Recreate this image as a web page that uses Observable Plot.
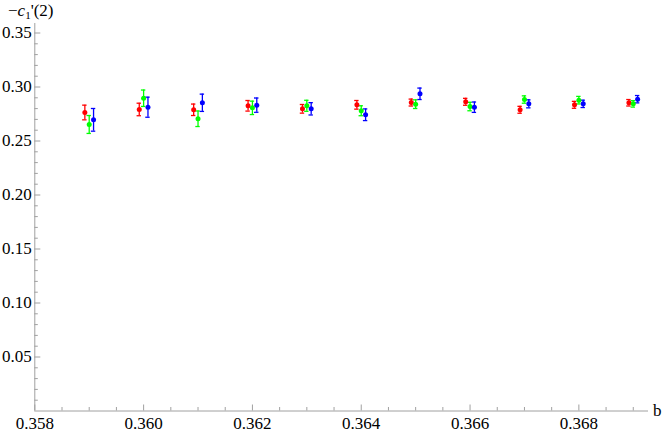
<!DOCTYPE html>
<html>
<head>
<meta charset="utf-8">
<script src="https://cdn.jsdelivr.net/npm/d3@7"></script>
<script src="https://cdn.jsdelivr.net/npm/@observablehq/plot@0.6"></script>
<style>
  body { margin: 0; background: #fff; }
  #wrap { position: relative; width: 664px; height: 433px; font-family: "Liberation Serif", "Times New Roman", Times, "DejaVu Serif", "Noto Serif", serif; }
  .lbl { position: absolute; font-size: 17px; line-height: 17px; color: #000; white-space: nowrap; }
  .lbl sub { font-size: 11px; vertical-align: -3px; line-height: 0; }
</style>
</head>
<body>
<div id="wrap">
  <span class="lbl" style="left:8px; top:2px;">−<i>c</i><sub>1</sub>'(2)</span>
  <span class="lbl" style="left:653px; top:402px;">b</span>
</div>
<script>
// Data
const bValues = [0.359, 0.360, 0.361, 0.362, 0.363, 0.364, 0.365, 0.366, 0.367, 0.368, 0.369];
const redVals   = [0.2764, 0.2792, 0.2789, 0.2826, 0.2798, 0.2835, 0.2856, 0.2863, 0.2789, 0.2835, 0.2854];
const redErr    = [0.0068, 0.0058, 0.0053, 0.0049, 0.0040, 0.0040, 0.0032, 0.0032, 0.0032, 0.0032, 0.0030];
const greenVals = [0.2653, 0.2896, 0.2706, 0.2807, 0.2826, 0.2780, 0.2841, 0.2819, 0.2884, 0.2878, 0.2844];
const greenErr  = [0.0083, 0.0076, 0.0072, 0.0062, 0.0051, 0.0046, 0.0040, 0.0039, 0.0034, 0.0035, 0.0030];
const blueVals  = [0.2696, 0.2813, 0.2854, 0.2832, 0.2798, 0.2743, 0.2937, 0.2813, 0.2844, 0.2844, 0.2887];
const blueErr   = [0.0105, 0.0093, 0.0080, 0.0066, 0.0057, 0.0054, 0.0053, 0.0048, 0.0037, 0.0034, 0.0034];
const seriesNames = ["series 1", "series 2", "series 3"];
const seriesColors = ["#ff0000", "#00ff00", "#0000ff"];
const seriesShift = [-0.00008, 0, 0.00008];

const xTicks = [0.358, 0.360, 0.362, 0.364, 0.366, 0.368];
const yTicks = [0.05, 0.10, 0.15, 0.20, 0.25, 0.30, 0.35];

// Layout
const W = 664, H = 433;
const mL = 34.3, mR = 16, mT = 23, mB = 22.5;
const xDomain = [0.358, 0.36928];
const yDomain = [0, 0.3588];
const pxPerX = (W - mL - mR) / (xDomain[1] - xDomain[0]);
const pxPerY = (H - mT - mB) / (yDomain[1] - yDomain[0]);

const xMinor = d3.range(0, 23).map(i => +(0.358 + i * 0.0005).toFixed(4)).filter(v => v <= xDomain[1] && !xTicks.some(t => Math.abs(t - v) < 1e-9));
const yMinor = d3.range(1, 36).map(i => +(i * 0.01).toFixed(2)).filter(v => !yTicks.some(t => Math.abs(t - v) < 1e-9));

const valsAll = [redVals, greenVals, blueVals];
const errsAll = [redErr, greenErr, blueErr];
const pts = [];
seriesNames.forEach((s, k) => {
  bValues.forEach((b, i) => {
    pts.push({series: s, x: b + seriesShift[k], y: valsAll[k][i], e: errsAll[k][i]});
  });
});
const capW = 2.2 / pxPerX;
const axisColor = "#a0a0a0";
const serif = "'Liberation Serif', 'Times New Roman', Times, 'DejaVu Serif', 'Noto Serif', serif";

const chart = Plot.plot({
  width: W, height: H,
  marginLeft: mL, marginRight: mR, marginTop: mT, marginBottom: mB,
  style: {fontFamily: serif, fontSize: "17px", background: "transparent", color: "#000"},
  x: {domain: xDomain, axis: null},
  y: {domain: yDomain, axis: null},
  color: {type: "ordinal", domain: seriesNames, range: seriesColors},
  marks: [
    // axis lines
    Plot.ruleY([0], {x1: xDomain[0], x2: xDomain[1], stroke: axisColor, strokeWidth: 1}),
    Plot.ruleX([xDomain[0]], {y1: yDomain[0], y2: yDomain[1], stroke: axisColor, strokeWidth: 1}),
    // inward ticks
    Plot.ruleX(xTicks, {y1: 0, y2: 6 / pxPerY, stroke: axisColor}),
    Plot.ruleX(xMinor, {y1: 0, y2: 3.5 / pxPerY, stroke: axisColor}),
    Plot.ruleY(yTicks, {x1: xDomain[0], x2: xDomain[0] + 6 / pxPerX, stroke: axisColor}),
    Plot.ruleY(yMinor, {x1: xDomain[0], x2: xDomain[0] + 3.5 / pxPerX, stroke: axisColor}),
    // tick labels
    Plot.axisX(xTicks, {tickSize: 0, tickPadding: 6, tickFormat: d3.format(".3f"), label: null, fill: "#000", fontSize: 17, fontFamily: serif}),
    Plot.axisY(yTicks, {tickSize: 0, tickPadding: 3, tickFormat: d3.format(".2f"), label: null, fill: "#000", fontSize: 17, fontFamily: serif}),
    // error bars
    Plot.ruleX(pts, {x: "x", y1: d => d.y - d.e, y2: d => d.y + d.e, stroke: "series", strokeWidth: 1.3}),
    Plot.ruleY(pts, {y: d => d.y + d.e, x1: d => d.x - capW, x2: d => d.x + capW, stroke: "series", strokeWidth: 1.3}),
    Plot.ruleY(pts, {y: d => d.y - d.e, x1: d => d.x - capW, x2: d => d.x + capW, stroke: "series", strokeWidth: 1.3}),
    // points
    Plot.dot(pts, {x: "x", y: "y", fill: "series", r: 2.5, stroke: null})
  ]
});
chart.style.position = "absolute";
chart.style.left = "0";
chart.style.top = "0";
document.getElementById("wrap").prepend(chart);
</script>
</body>
</html>
